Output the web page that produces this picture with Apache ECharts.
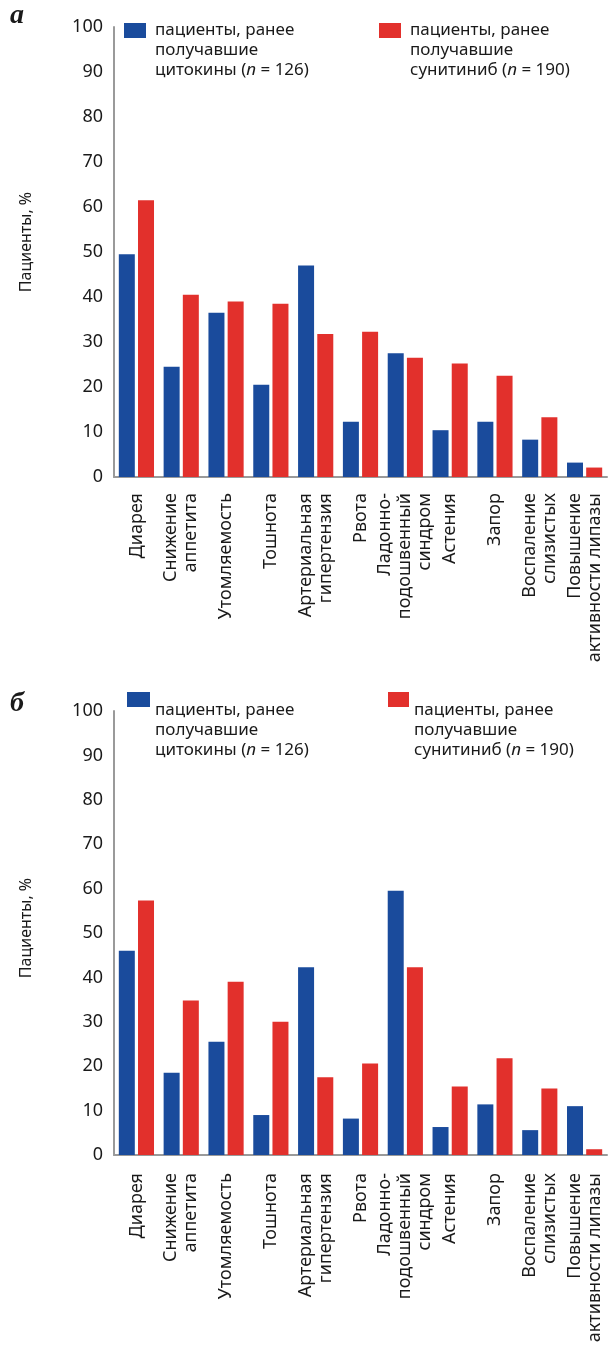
<!DOCTYPE html>
<html>
<head>
<meta charset="utf-8">
<script src="https://cdn.jsdelivr.net/npm/echarts@6/dist/echarts.min.js"></script>
<style>
html,body{margin:0;padding:0;background:#fff;}
#chart{width:615px;height:1351px;}
</style>
</head>
<body>
<div id="chart"></div>
<script>
const categories = ['Диарея','Снижение\nаппетита','Утомляемость','Тошнота','Артериальная\nгипертензия','Рвота','Ладонно-\nподошвенный\nсиндром','Астения','Запор','Воспаление\nслизистых','Повышение\nактивности липазы'];
const seriesNames = ['пациенты, ранее получавшие цитокины (n = 126)', 'пациенты, ранее получавшие сунитиниб (n = 190)'];
const cytokinesA = [49.5, 24.5, 36.5, 20.5, 47.0, 12.3, 27.5, 10.4, 12.3, 8.3, 3.2];
const sunitinibA = [61.5, 40.5, 39.0, 38.5, 31.8, 32.3, 26.5, 25.2, 22.5, 13.3, 2.1];
const cytokinesB = [46.0, 18.5, 25.5, 9.0, 42.3, 8.2, 59.5, 6.3, 11.4, 5.6, 11.0];
const sunitinibB = [57.3, 34.8, 39.0, 30.0, 17.5, 20.6, 42.3, 15.4, 21.8, 15.0, 1.3];
const yTicks = [0, 100, 10];
const panelLabels = ['а', 'б'];
const yName = 'Пациенты, %';

const BLUE = '#1a4b9c';
const RED = '#e2302c';
const FONT = 'Noto Sans';

const chart = echarts.init(document.getElementById('chart'), null, {renderer: 'canvas'});

const legendRich = {
  t: {fontFamily: FONT, fontSize: 17, lineHeight: 20, color: '#1a1a1a'},
  i: {fontFamily: FONT, fontSize: 17, lineHeight: 20, fontStyle: 'italic', color: '#1a1a1a'}
};
function legendFormatter(name) {
  if (name === seriesNames[0]) return '{t|пациенты, ранее}\n{t|получавшие}\n{t|цитокины (}{i|n}{t| = 126)}';
  return '{t|пациенты, ранее}\n{t|получавшие}\n{t|сунитиниб (}{i|n}{t| = 190)}';
}
function mkLegend(name, left, top, iw, padTop, padLeft) {
  return {
    data: [name], left: left, top: top, padding: 0,
    orient: 'horizontal', icon: 'rect', itemWidth: iw, itemHeight: 15,
    formatter: legendFormatter, selectedMode: false,
    textStyle: {padding: [padTop, 0, 0, padLeft], rich: legendRich}
  };
}

function xAxisFor(gi, margin) {
  return {
    type: 'category', gridIndex: gi, data: categories,
    axisLine: {show: true, lineStyle: {color: '#9a9a9a', width: 2}},
    axisTick: {show: false},
    axisLabel: {interval: 0, rotate: 90, margin: margin, fontFamily: FONT, fontSize: 18, lineHeight: 20, color: '#1a1a1a'}
  };
}
function yAxisFor(gi, padLeft) {
  return {
    type: 'value', gridIndex: gi, min: yTicks[0], max: yTicks[1], interval: yTicks[2],
    name: yName, nameLocation: 'middle', nameGap: 80, nameRotate: 90,
    nameTextStyle: {fontFamily: FONT, fontSize: 16, color: '#1a1a1a', padding: [0, 0, 0, padLeft]},
    axisLine: {show: true, lineStyle: {color: '#9a9a9a', width: 2}},
    axisTick: {show: false},
    splitLine: {show: false},
    axisLabel: {margin: 11, fontFamily: FONT, fontSize: 18, color: '#1a1a1a'}
  };
}
function barSeries(name, data, gi, color) {
  return {
    name: name, type: 'bar', xAxisIndex: gi, yAxisIndex: gi, data: data,
    barWidth: 16, barGap: '20%',
    itemStyle: {color: color}
  };
}

chart.setOption({
  animation: false,
  backgroundColor: '#fff',
  title: [
    {text: panelLabels[0], left: 10, top: 2, padding: 0, textStyle: {fontFamily: 'Liberation Serif', fontStyle: 'italic', fontWeight: 'bold', fontSize: 28, color: '#1a1a1a'}},
    {text: panelLabels[1], left: 10, top: 690, padding: 0, textStyle: {fontFamily: 'Liberation Serif', fontStyle: 'italic', fontWeight: 'bold', fontSize: 28, color: '#1a1a1a'}}
  ],
  legend: [
    mkLegend(seriesNames[0], 124, 22, 22, 40, 4),
    mkLegend(seriesNames[1], 379, 22, 22, 40, 4),
    mkLegend(seriesNames[0], 127, 692, 23, 62, 0),
    mkLegend(seriesNames[1], 388, 692, 21, 62, 0)
  ],
  grid: [
    {left: 114, top: 27, width: 493, height: 450},
    {left: 114, top: 711, width: 493, height: 444}
  ],
  xAxis: [xAxisFor(0, 16), xAxisFor(1, 18)],
  yAxis: [yAxisFor(0, 20), yAxisFor(1, 10)],
  series: [
    barSeries(seriesNames[0], cytokinesA, 0, BLUE),
    barSeries(seriesNames[1], sunitinibA, 0, RED),
    barSeries(seriesNames[0], cytokinesB, 1, BLUE),
    barSeries(seriesNames[1], sunitinibB, 1, RED)
  ]
});
</script>
</body>
</html>
